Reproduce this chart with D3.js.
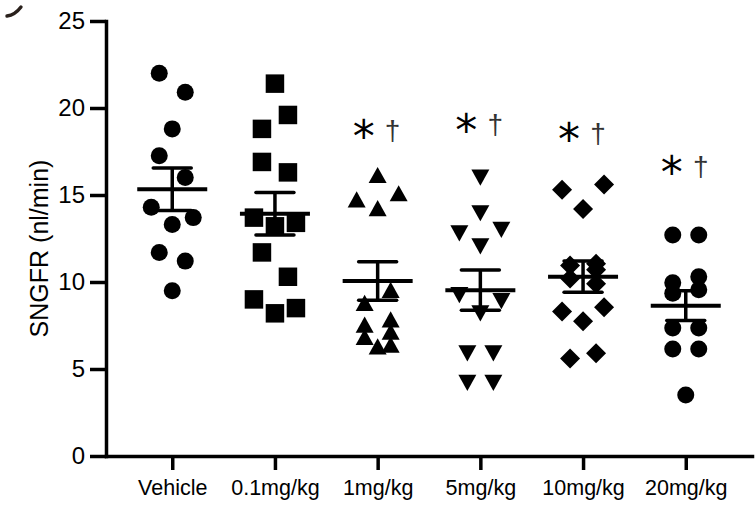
<!DOCTYPE html>
<html>
<head>
<meta charset="utf-8">
<script src="https://cdn.jsdelivr.net/npm/d3@7/dist/d3.min.js"></script>
<style>
  html, body { margin: 0; padding: 0; background: #fff; }
  svg { display: block; }
  text { font-family: "Liberation Sans", Arial, Helvetica, sans-serif; fill: #000; }
</style>
</head>
<body>
<svg id="chart" width="756" height="505"></svg>
<script>
// Single-nephron GFR per treatment group (nl/min)
const categories = ["Vehicle", "0.1mg/kg", "1mg/kg", "5mg/kg", "10mg/kg", "20mg/kg"];
const vehicle = [22.0, 20.9, 18.8, 17.25, 16.0, 14.3, 13.3, 13.7, 11.7, 11.2, 9.5];
const dose01  = [21.4, 18.8, 19.6, 16.9, 16.3, 13.7, 13.2, 13.4, 11.7, 10.3, 9.0, 8.2, 8.5];
const dose1   = [14.75, 16.15, 15.1, 14.25, 8.8, 9.55, 7.85, 7.55, 7.15, 6.85, 6.4, 6.3];
const dose5   = [16.0, 12.8, 13.95, 13.0, 12.05, 9.25, 8.2, 8.9, 5.9, 5.9, 4.2, 4.2];
const dose10  = [15.3, 14.2, 15.6, 11.05, 10.95, 10.7, 10.2, 9.9, 8.3, 7.75, 8.55, 5.6, 5.9];
const dose20  = [12.7, 12.7, 10.3, 9.95, 9.55, 9.35, 7.35, 7.35, 6.15, 6.15, 3.5];
const groupValues = [vehicle, dose01, dose1, dose5, dose10, dose20];
const groupSymbols = ["circle", "square", "triangleUp", "triangleDown", "diamond", "circle"];
// significance labels (* vs vehicle, † vs 0.1mg/kg) and the level, in nl/min, they sit at
const sigLabels = [null, null, ["*", "†"], ["*", "†"], ["*", "†"], ["*", "†"]];
const sigLevel  = [null, null, 18.66, 19.04, 18.48, 16.63];
const yTicks = [0, 5, 10, 15, 20, 25];
const yTitle = "SNGFR (nl/min)";

const svg = d3.select("#chart");
const plotLeft = 106, plotRight = 752, plotTop = 21, plotBottom = 456;

const x = d3.scalePoint().domain(categories).range([plotLeft, plotRight]).padding(0.645);
const y = d3.scaleLinear().domain([0, 25]).range([plotBottom, plotTop]);

// marker shapes, size = nominal width in px
const shapes = {
  circle: { draw(c, s) { const r = s / 2; c.moveTo(r, 0); c.arc(0, 0, r, 0, 2 * Math.PI); } },
  square: { draw(c, s) { const h = s / 2; c.rect(-h, -h, s, s); } },
  triangleUp: { draw(c, s) { const w = s / 2, h = s * 0.45; c.moveTo(0, -h); c.lineTo(w, h); c.lineTo(-w, h); c.closePath(); } },
  triangleDown: { draw(c, s) { const w = s / 2, h = s * 0.45; c.moveTo(0, h); c.lineTo(w, -h); c.lineTo(-w, -h); c.closePath(); } },
  diamond: { draw(c, s) { const h = s / 2; c.moveTo(0, -h); c.lineTo(h, 0); c.lineTo(0, h); c.lineTo(-h, 0); c.closePath(); } }
};
const shapeSize = { circle: 17, square: 18.5, triangleUp: 18, triangleDown: 18, diamond: 20 };

// scatter layout: points closer than rowGap px in a column share a row and are spread sideways
const rowGap = 26;
function spread(values) {
  const order = d3.range(values.length).sort((a, b) => values[b] - values[a]);
  const offsets = new Array(values.length).fill(0);
  let i = 0;
  while (i < order.length) {
    const first = y(values[order[i]]);
    let j = i;
    while (j < order.length && y(values[order[j]]) - first < rowGap) j++;
    const members = order.slice(i, j).sort((a, b) => a - b);
    const n = members.length;
    members.forEach((m, k) => {
      if (n === 1) offsets[m] = 0;
      else if (n === 2) offsets[m] = k === 0 ? -13 : 13;
      else if (n === 3) offsets[m] = (k - 1) * 21;
      else offsets[m] = k % 2 === 0 ? 13 : -13;
    });
    i = j;
  }
  return offsets;
}

// stray panel letter fragment at the top-left corner
svg.append("path")
  .attr("d", "M7,16 Q15,15 21,7")
  .attr("fill", "none").attr("stroke", "#2a211c").attr("stroke-width", 3.4).attr("stroke-linecap", "round");

// axes
const yAxis = d3.axisLeft(y).tickValues(yTicks).tickSize(16).tickSizeOuter(0).tickPadding(5);
const gy = svg.append("g").attr("transform", `translate(${plotLeft},0)`).call(yAxis);
gy.selectAll("text").style("font-size", "24px");

const xAxis = d3.axisBottom(x).tickSize(14).tickSizeOuter(0).tickPadding(10);
const gx = svg.append("g").attr("transform", `translate(0,${plotBottom})`).call(xAxis);
gx.selectAll("text").style("font-size", "21.5px");

[gx, gy].forEach(g => {
  g.select(".domain").attr("stroke", "#000").attr("stroke-width", 3.5).attr("stroke-linecap", "square");
  g.selectAll(".tick line").attr("stroke", "#000").attr("stroke-width", 3.5);
  g.selectAll(".tick text").attr("fill", "#000");
});

// y title
svg.append("text")
  .attr("transform", `translate(48,${(plotTop + plotBottom) / 2 + 10}) rotate(-90)`)
  .attr("text-anchor", "middle")
  .style("font-size", "25px")
  .text(yTitle);

// points, group mean and SEM
groupValues.forEach((vals, gi) => {
  const cx = x(categories[gi]);
  const type = groupSymbols[gi];
  const sym = d3.symbol().type(shapes[type]).size(shapeSize[type]);
  const offs = spread(vals);
  const g = svg.append("g");
  g.selectAll("path.pt").data(vals).join("path")
    .attr("class", "pt")
    .attr("d", sym)
    .attr("transform", (d, i) => `translate(${cx + offs[i]},${y(d)})`)
    .attr("fill", "#000");

  const mean = d3.mean(vals);
  const sem = d3.deviation(vals) / Math.sqrt(vals.length);
  const bars = svg.append("g").attr("stroke", "#000");
  bars.append("line").attr("x1", cx).attr("x2", cx).attr("y1", y(mean + sem)).attr("y2", y(mean - sem)).attr("stroke-width", 3.5);
  [mean + sem, mean - sem].forEach(v => {
    bars.append("line").attr("x1", cx - 19).attr("x2", cx + 19).attr("y1", y(v)).attr("y2", y(v))
      .attr("stroke-width", 3.5).attr("stroke-linecap", "round");
  });
  bars.append("line").attr("x1", cx - 35).attr("x2", cx + 35).attr("y1", y(mean)).attr("y2", y(mean))
    .attr("stroke-width", 4);

  if (sigLabels[gi]) {
    const ly = y(sigLevel[gi]);
    svg.append("text").attr("x", cx - 14).attr("y", ly + 21).attr("text-anchor", "middle")
      .style("font-size", "44px").style("font-family", "DejaVu Sans").text(sigLabels[gi][0]);
    svg.append("text").attr("x", cx + 15).attr("y", ly + 9).attr("text-anchor", "middle")
      .style("font-size", "28px").style("fill", "#333").text(sigLabels[gi][1]);
  }
});
</script>
</body>
</html>
